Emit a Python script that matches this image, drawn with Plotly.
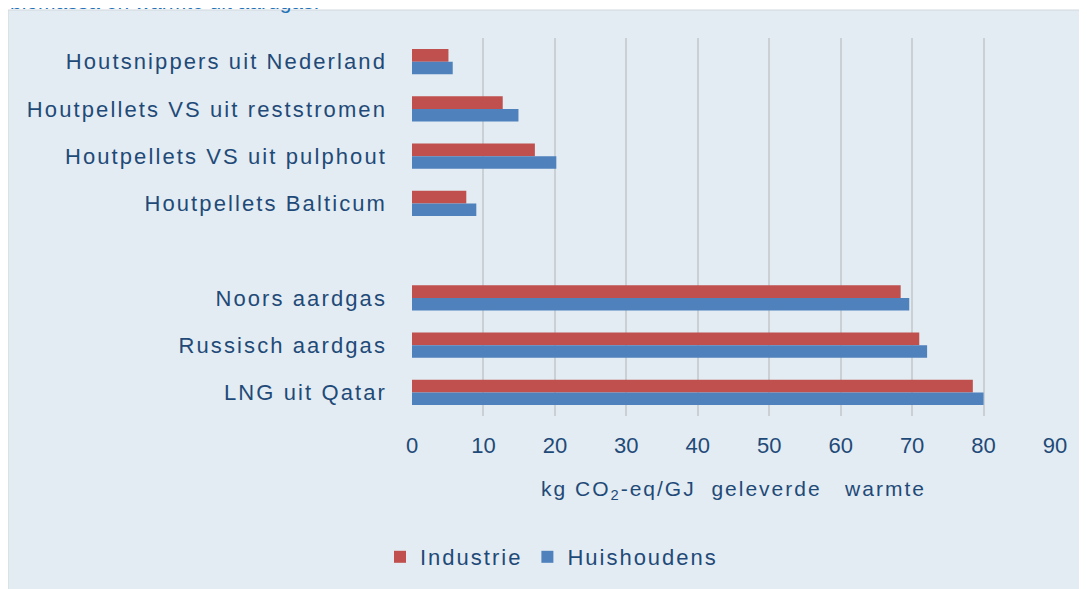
import plotly.graph_objects as go

# ---- data ----
categories = [
    "Houtsnippers uit Nederland",
    "Houtpellets VS uit reststromen",
    "Houtpellets VS uit pulphout",
    "Houtpellets Balticum",
    " ",
    "Noors aardgas",
    "Russisch aardgas",
    "LNG uit Qatar",
]
industrie = [5.1, 12.7, 17.2, 7.6, None, 68.4, 71.0, 78.5]
huishoudens = [5.7, 14.9, 20.2, 9.0, None, 69.6, 72.1, 80.0]
x_ticks = [0, 10, 20, 30, 40, 50, 60, 70, 80, 90]
series_names = ["Industrie", "Huishoudens"]
x_title = "kg CO<sub>2</sub>-eq/GJ\u00a0 geleverde\u00a0\u00a0 warmte"
top_text = "biomassa en warmte uit aardgas."

# ---- style ----
OX, OY = 8, 8            # page offset of the figure (body margin)
W, H = 1087 - OX + 2, 589 - OY + 2
L, T = 412 - OX, 38 - OY
R = W + OX - 1055
B = H + OY - 416
PW, PH = W - L - R, H - T - B
panel = "#e3ecf2"
edge = "#d3d8dc"
navy = "#1f4a78"
red = "#c0504d"
blue = "#4f81bd"
FONT = "Liberation Sans, Arial, sans-serif"


def px_x(p):
    """page x pixel -> paper coordinate"""
    return (p - OX - L) / PW


def px_y(p):
    """page y pixel -> paper coordinate"""
    return (H - B - (p - OY)) / PH


def spaced(t, s=2.1):
    return f'<span style="letter-spacing:{s}px">{t}</span>'


fig = go.Figure()
fig.add_trace(go.Bar(y=categories, x=industrie, orientation="h",
                     name=spaced(series_names[0], 2.0), marker=dict(color=red, line=dict(width=0))))
fig.add_trace(go.Bar(y=categories, x=huishoudens, orientation="h",
                     name=spaced(series_names[1], 2.0), marker=dict(color=blue, line=dict(width=0))))

fig.update_layout(
    width=W, height=H,
    margin=dict(l=L, r=R, t=T, b=B, autoexpand=False),
    paper_bgcolor="rgba(0,0,0,0)",
    plot_bgcolor=panel,
    barmode="group",
    bargap=0.47,
    bargroupgap=0,
    font=dict(family=FONT, color=navy, size=22),
    showlegend=True,
    legend=dict(orientation="h", x=px_x(380), xanchor="left", y=px_y(557), yanchor="middle",
                font=dict(size=22, color=navy, family=FONT), bgcolor="rgba(0,0,0,0)",
                traceorder="normal"),
    xaxis=dict(range=[0, 90], tickvals=x_ticks, ticktext=[str(v) for v in x_ticks],
               showgrid=True, gridcolor="#cbd0d4", gridwidth=1.5, zeroline=False,
               showline=False, ticks="", tickfont=dict(size=22, color=navy, family=FONT),
               ticklabelstandoff=14, fixedrange=True),
    yaxis=dict(autorange="reversed", type="category", tickvals=categories,
               ticktext=[spaced(c) if c.strip() else "" for c in categories],
               showgrid=False, zeroline=False, showline=False, ticks="",
               tickfont=dict(size=22, color=navy, family=FONT),
               ticklabelstandoff=24, fixedrange=True),
    shapes=[
        dict(type="rect", xref="paper", yref="paper",
             x0=px_x(8), x1=px_x(1087 + 20), y0=px_y(589 + 30), y1=px_y(10),
             fillcolor=panel, line=dict(width=0), layer="below"),
        dict(type="line", xref="paper", yref="paper",
             x0=px_x(8), x1=px_x(1087 + 20), y0=px_y(10), y1=px_y(10),
             line=dict(color=edge, width=1), layer="below"),
        dict(type="line", xref="paper", yref="paper",
             x0=px_x(8), x1=px_x(8), y0=px_y(10), y1=px_y(589 + 30),
             line=dict(color=edge, width=1), layer="below"),
    ],
    annotations=[
        dict(text=spaced(x_title, 2), xref="paper", yref="paper", x=0.5, y=px_y(490),
             xanchor="center", yanchor="middle", showarrow=False,
             font=dict(size=21, color=navy, family=FONT)),
        dict(text=top_text, xref="paper", yref="paper", x=px_x(8), y=px_y(15),
             xanchor="left", yanchor="bottom", showarrow=False,
             font=dict(size=21, color="#2372b8", family=FONT)),
    ],
)

fig.write_html("out.html")
